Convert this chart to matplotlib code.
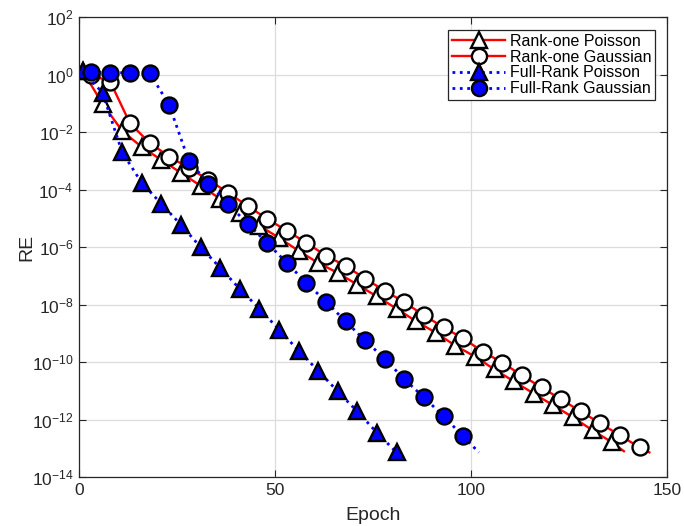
import matplotlib
matplotlib.use("Agg")
import matplotlib.pyplot as plt
import numpy as np

plt.rcParams['font.family'] = ['Liberation Sans', 'DejaVu Sans']
plt.rcParams['mathtext.fontset'] = 'custom'
plt.rcParams['mathtext.rm'] = 'Liberation Sans'
plt.rcParams['mathtext.it'] = 'Liberation Sans'

# ---- data (epoch, RE); last point of each series is the end of the line (no marker) ----
r1p_epoch = [1, 6, 11, 16, 21, 26, 31, 36, 41, 46, 51, 56, 61, 66, 71, 76, 81, 86, 91,
             96, 101, 106, 111, 116, 121, 126, 131, 136, 139]
r1p_re = [1.3, 9.5e-2, 1.1e-2, 3.0e-3, 1.07e-3, 3.8e-4, 1.35e-4, 4.8e-5, 1.55e-5, 5.5e-6,
          2.1e-6, 7.4e-7, 2.8e-7, 1.26e-7, 4.9e-8, 1.9e-8, 7.2e-9, 2.6e-9, 1.05e-9,
          3.7e-10, 1.55e-10, 5.5e-11, 2.1e-11, 8.0e-12, 3.1e-12, 1.2e-12, 4.2e-13,
          1.6e-13, 7.9e-14]

r1g_epoch = [3, 8, 13, 18, 23, 28, 33, 38, 43, 48, 53, 58, 63, 68, 73, 78, 83, 88, 93,
             98, 103, 108, 113, 118, 123, 128, 133, 138, 143, 145.5]
r1g_re = [1.0, 0.55, 2.0e-2, 4.2e-3, 1.4e-3, 5.6e-4, 2.2e-4, 7.7e-5, 2.7e-5, 9.5e-6,
          3.7e-6, 1.4e-6, 5.0e-7, 2.2e-7, 7.9e-8, 3.0e-8, 1.2e-8, 4.2e-9, 1.6e-9,
          6.6e-10, 2.3e-10, 9.5e-11, 3.4e-11, 1.3e-11, 5.0e-12, 1.9e-12, 7.3e-13,
          2.8e-13, 1.07e-13, 7.2e-14]

frp_epoch = [1, 6, 11, 16, 21, 26, 31, 36, 41, 46, 51, 56, 61, 66, 71, 76, 81]
frp_re = [1.3, 0.23, 2.0e-3, 1.7e-4, 3.2e-5, 5.9e-6, 1.0e-6, 1.9e-7, 3.5e-8, 7.2e-9,
          1.35e-9, 2.5e-10, 5.0e-11, 9.5e-12, 1.9e-12, 3.5e-13, 7.2e-14]

frg_epoch = [3, 8, 13, 18, 23, 28, 33, 38, 43, 48, 53, 58, 63, 68, 73, 78, 83, 88, 93,
             98, 102]
frg_re = [1.2, 1.15, 1.15, 1.15, 8.7e-2, 1.0e-3, 1.6e-4, 3.2e-5, 6.4e-6, 1.4e-6, 2.8e-7,
          5.7e-8, 1.25e-8, 2.6e-9, 5.6e-10, 1.3e-10, 2.5e-11, 5.9e-12, 1.3e-12, 2.6e-13,
          7.2e-14]

labels = ['Rank-one Poisson', 'Rank-one Gaussian', 'Full-Rank Poisson', 'Full-Rank Gaussian']
xticks = [0, 50, 100, 150]
yticks_exp = [2, 0, -2, -4, -6, -8, -10, -12, -14]

fig = plt.figure(figsize=(6.84, 5.26), dpi=100)
ax = fig.add_axes([79/684, 1-477/526, (667-79)/684, (477-17)/526])

ms = 11.5
mew = 1.7
lw = 1.7
ax.plot(r1p_epoch, r1p_re, '-', color='red', lw=lw, marker='^', ms=ms, mfc='white',
        mec='black', mew=mew, markevery=list(range(len(r1p_epoch) - 1)), label=labels[0])
ax.plot(r1g_epoch, r1g_re, '-', color='red', lw=lw, marker='o', ms=ms, mfc='white',
        mec='black', mew=mew, markevery=list(range(len(r1g_epoch) - 1)), label=labels[1])
ax.plot(frp_epoch, frp_re, ':', color='blue', lw=2.0, marker='^', ms=ms, mfc='blue',
        mec='black', mew=mew, label=labels[2])
ax.plot(frg_epoch, frg_re, ':', color='blue', lw=2.0, marker='o', ms=ms, mfc='blue',
        mec='black', mew=mew, markevery=list(range(len(frg_epoch) - 1)), label=labels[3])

ax.set_yscale('log')
ax.set_xlim(0, 150)
ax.set_ylim(1e-14, 1e2)
ax.set_xticks(xticks)
ax.set_xticklabels([str(t) for t in xticks])
ax.set_yticks([10.0**e for e in yticks_exp])
ax.set_yticklabels([r'$\mathregular{10^{%d}}$' % e for e in yticks_exp])
ax.yaxis.set_minor_locator(matplotlib.ticker.NullLocator())
ax.tick_params(direction='in', which='both', top=True, right=True, length=5,
               width=0.8, labelsize=12.5, colors='#262626', pad=4)
ax.grid(True, color='#dcdcdc', linewidth=0.9)
ax.set_axisbelow(True)
for s in ax.spines.values():
    s.set_color('#262626')
    s.set_linewidth(0.9)

ax.set_xlabel('Epoch', fontsize=14, color='#262626', labelpad=7)
ax.set_ylabel('RE', fontsize=14, color='#262626', labelpad=-3)

leg = ax.legend(loc='upper right', bbox_to_anchor=(0.98, 0.972), borderaxespad=0,
                fontsize=11.5, frameon=True, fancybox=False, handlelength=3.3,
                handletextpad=0.3, labelspacing=0.05, borderpad=0.25, markerscale=0.95)
leg.get_frame().set_edgecolor('#262626')
leg.get_frame().set_linewidth(0.9)
leg.get_frame().set_alpha(1)

fig.savefig('out.png', dpi=100)
